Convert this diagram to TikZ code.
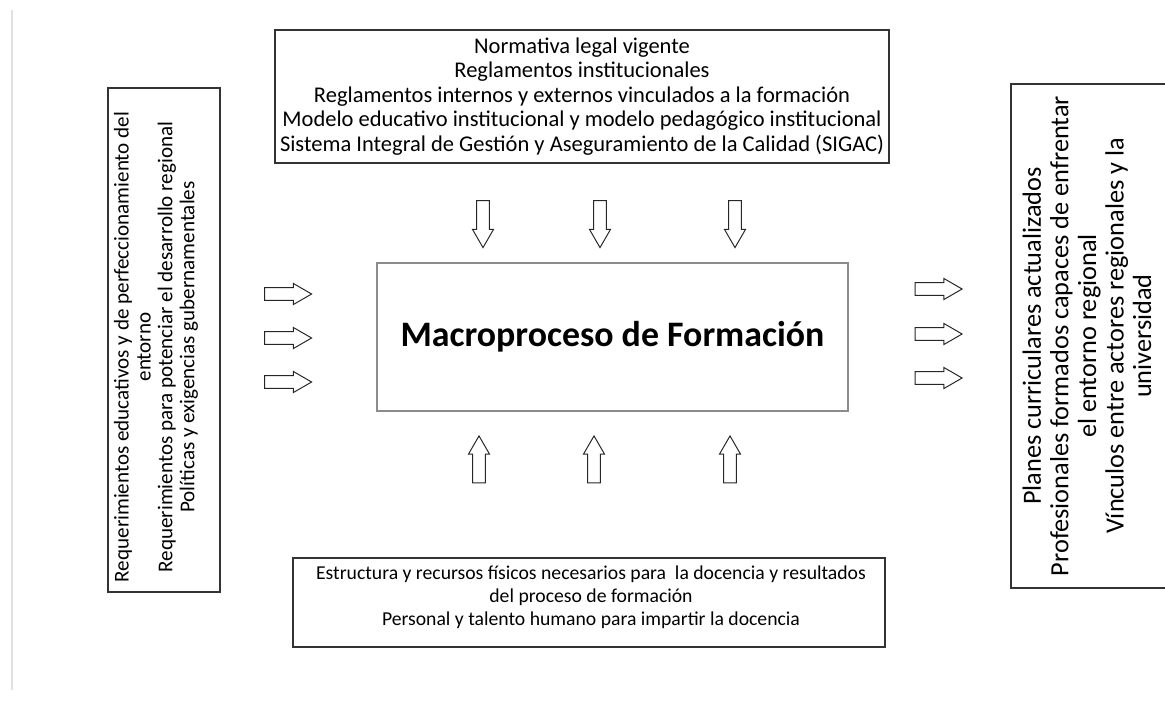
\documentclass[tikz,border=0pt]{standalone}
\usepackage{fontspec}
\setmainfont{Carlito}
\usetikzlibrary{shapes.arrows}

\tikzset{
  caja/.style={draw=black!80, line width=1pt, align=center, inner sep=0pt},
  texto/.style={align=center, inner sep=0pt},
  flecha/.style={single arrow, draw=black!85, line width=0.7pt, inner xsep=0pt,
    inner ysep=4.25pt, minimum height=33.4pt, single arrow head extend=2.9pt,
    single arrow tip angle=60},
}

\begin{document}
\begin{tikzpicture}[x=0.025cm, y=-0.025cm]
      \useasboundingbox (0, 0) rectangle (1165, 706);
      \clip (0, 0) rectangle (1165, 706);
      \draw[black!12, line width=1pt] (12, 10) -- (12, 690);
      % entradas y salidas
      \node[caja, minimum width=15.35cm, minimum height=3.325cm,
            font=\fontsize{16pt}{17.4pt}\selectfont] (normas) at (582, 96.5)
        {Normativa legal vigente\\
         Reglamentos institucionales\\
         Reglamentos internos y externos vinculados a la formación\\
         Modelo educativo institucional y modelo pedagógico institucional\\
         Sistema Integral de Gestión y Aseguramiento de la Calidad (SIGAC)};
      \node[caja, rotate=90, minimum width=12.6cm, minimum height=2.8cm] (requer) at (164, 340) {};
      \node[texto, rotate=90, font=\fontsize{15pt}{15.6pt}\selectfont] (requertxt) at (156, 347)
        {Requerimientos educativos y de perfeccionamiento del\\
         entorno\\
         Requerimientos para potenciar el desarrollo regional\\
         Políticas y exigencias gubernamentales};
      \node[caja, rotate=90, minimum width=12.6cm, minimum height=4.15cm] (result) at (1094, 336) {};
      \node[texto, rotate=90, font=\fontsize{18.7pt}{19.6pt}\selectfont] (resulttxt) at (1087, 336)
        {Planes curriculares actualizados\\
         Profesionales formados capaces de enfrentar\\
         el entorno regional\\
         Vínculos entre actores regionales y la\\
         universidad};
      \node[caja, minimum width=14.8cm, minimum height=2.225cm] (recursos) at (589, 602.5) {};
      \node[texto, font=\fontsize{14pt}{16.4pt}\selectfont] (recursostxt) at (591, 597)
        {Estructura y recursos físicos necesarios para~ la docencia y resultados\\
         del proceso de formación\\
         Personal y talento humano para impartir la docencia};
      % proceso central
      \node[caja, draw=black!45, line width=1pt, minimum width=11.775cm, minimum height=3.7cm,
            font=\fontsize{25.5pt}{28pt}\selectfont\bfseries] (macro) at (612.5, 337)
        {Macroproceso de Formación};
      % flechas
      \node[flecha] (e1) at (282.5, 294) {};
      \node[flecha] (e2) at (282.5, 338) {};
      \node[flecha] (e3) at (282.5, 382) {};
      \node[flecha] (s1) at (933, 289) {};
      \node[flecha] (s2) at (933, 334) {};
      \node[flecha] (s3) at (933, 378) {};
      \node[flecha, rotate=-90] (n1) at (483, 218.5) {};
      \node[flecha, rotate=-90] (n2) at (600, 218.5) {};
      \node[flecha, rotate=-90] (n3) at (735, 218.5) {};
      \node[flecha, rotate=90] (r1) at (479, 465) {};
      \node[flecha, rotate=90] (r2) at (594, 465) {};
      \node[flecha, rotate=90] (r3) at (730, 465) {};
    \end{tikzpicture}
\end{document}
